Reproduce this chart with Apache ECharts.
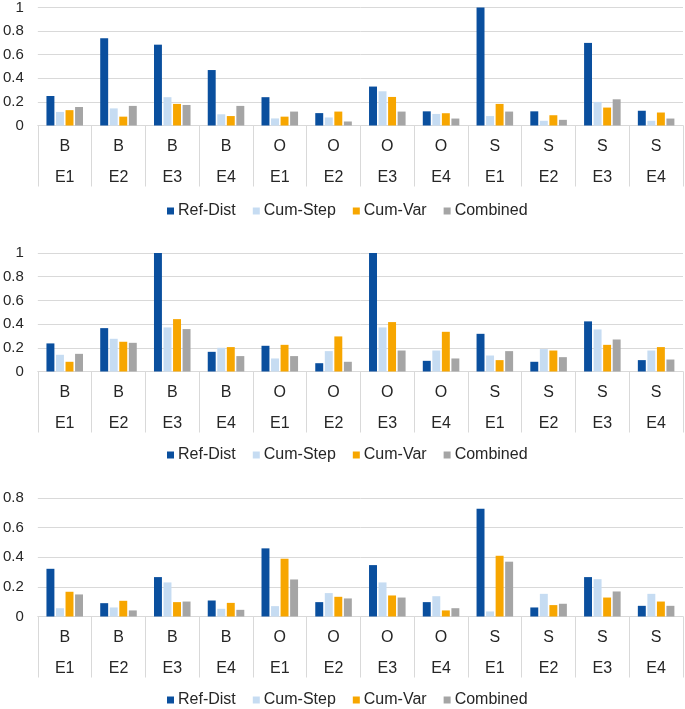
<!DOCTYPE html>
<html>
<head>
<meta charset="utf-8">
<script src="https://cdn.jsdelivr.net/npm/echarts@6/dist/echarts.min.js"></script>
<style>
html,body{margin:0;padding:0;background:#fff;}
#chart{width:685px;height:709px;}
</style>
</head>
<body>
<div id="chart"></div>
<script>
// ---- data ----
var groups = ['B','B','B','B','O','O','O','O','S','S','S','S'];
var exps = ['E1','E2','E3','E4','E1','E2','E3','E4','E1','E2','E3','E4'];
var seriesNames = ['Ref-Dist','Cum-Step','Cum-Var','Combined'];

var refDist1 = [0.25, 0.74, 0.685, 0.47, 0.24, 0.105, 0.33, 0.12, 1.0, 0.12, 0.70, 0.125];
var cumStep1 = [0.115, 0.145, 0.24, 0.095, 0.06, 0.068, 0.29, 0.098, 0.08, 0.04, 0.20, 0.04];
var cumVar1 = [0.13, 0.075, 0.183, 0.08, 0.075, 0.118, 0.242, 0.104, 0.183, 0.087, 0.152, 0.11];
var combined1 = [0.157, 0.166, 0.174, 0.166, 0.118, 0.034, 0.118, 0.059, 0.118, 0.048, 0.222, 0.059];

var refDist2 = [0.237, 0.366, 1.0, 0.166, 0.217, 0.07, 1.0, 0.09, 0.318, 0.082, 0.423, 0.096];
var cumStep2 = [0.141, 0.276, 0.372, 0.2, 0.11, 0.172, 0.372, 0.177, 0.135, 0.189, 0.355, 0.177];
var cumVar2 = [0.082, 0.251, 0.442, 0.206, 0.225, 0.296, 0.417, 0.335, 0.096, 0.177, 0.225, 0.206];
var combined2 = [0.149, 0.242, 0.358, 0.13, 0.13, 0.082, 0.177, 0.11, 0.172, 0.121, 0.27, 0.101];

var refDist3 = [0.322, 0.09, 0.266, 0.108, 0.46, 0.097, 0.347, 0.097, 0.728, 0.061, 0.266, 0.072];
var cumStep3 = [0.056, 0.061, 0.23, 0.052, 0.07, 0.158, 0.23, 0.137, 0.034, 0.153, 0.252, 0.153];
var cumVar3 = [0.167, 0.106, 0.097, 0.092, 0.39, 0.133, 0.142, 0.041, 0.41, 0.077, 0.128, 0.101];
var combined3 = [0.149, 0.041, 0.101, 0.045, 0.25, 0.122, 0.128, 0.056, 0.37, 0.086, 0.169, 0.072];

var yMax = [1, 1, 0.8];
var yInterval = 0.2;

// ---- build ----
var colors = ['#0a4f9e', '#c6dcf2', '#f7a600', '#a5a5a5'];
var panels = [
  [refDist1, cumStep1, cumVar1, combined1],
  [refDist2, cumStep2, cumVar2, combined2],
  [refDist3, cumStep3, cumVar3, combined3]
];
var gridTops = [7, 253, 498];
var legendTops = [203, 447, 692];
var categories = groups.map(function(g, i){ return g + '\n' + exps[i]; });
var font = 'Liberation Sans, Arial, sans-serif';
var textColor = '#262626';
var lineColor = '#d9d9d9';

var grids = [], xAxes = [], yAxes = [], series = [], legends = [];
panels.forEach(function(p, k){
  grids.push({left: 35, right: 2, top: gridTops[k], height: 118.5, containLabel: false});
  xAxes.push({
    type: 'category', gridIndex: k, data: categories,
    axisLine: {show: true, lineStyle: {color: lineColor, width: 1}},
    axisTick: {show: true, length: 61, interval: 0, alignWithLabel: false, lineStyle: {color: lineColor, width: 1}},
    axisLabel: {interval: 0, margin: 6, fontSize: 16, lineHeight: 31, color: textColor, fontFamily: font}
  });
  yAxes.push({
    type: 'value', gridIndex: k, min: 0, max: yMax[k], interval: yInterval,
    axisLine: {show: false}, axisTick: {show: false},
    splitLine: {lineStyle: {color: lineColor, width: 1}},
    axisLabel: {margin: 14, fontSize: 15, color: textColor, fontFamily: font,
      formatter: function(v){ return String(Math.round(v * 10) / 10); }}
  });
  p.forEach(function(vals, s){
    series.push({
      type: 'bar', name: seriesNames[s], xAxisIndex: k, yAxisIndex: k,
      data: vals, barGap: '20%', barCategoryGap: '32%',
      itemStyle: {color: colors[s]}
    });
  });
  legends.push({
    data: seriesNames, top: legendTops[k], left: 167, orient: 'horizontal',
    icon: 'rect', itemWidth: 7, itemHeight: 7, itemGap: 17, padding: 0,
    textStyle: {fontSize: 16, color: textColor, fontFamily: font, padding: [0,0,0,-1]},
    selectedMode: false
  });
});

var chart = echarts.init(document.getElementById('chart'), null, {renderer: 'canvas'});
chart.setOption({
  animation: false,
  backgroundColor: '#ffffff',
  grid: grids, xAxis: xAxes, yAxis: yAxes, legend: legends, series: series
});
</script>
</body>
</html>
